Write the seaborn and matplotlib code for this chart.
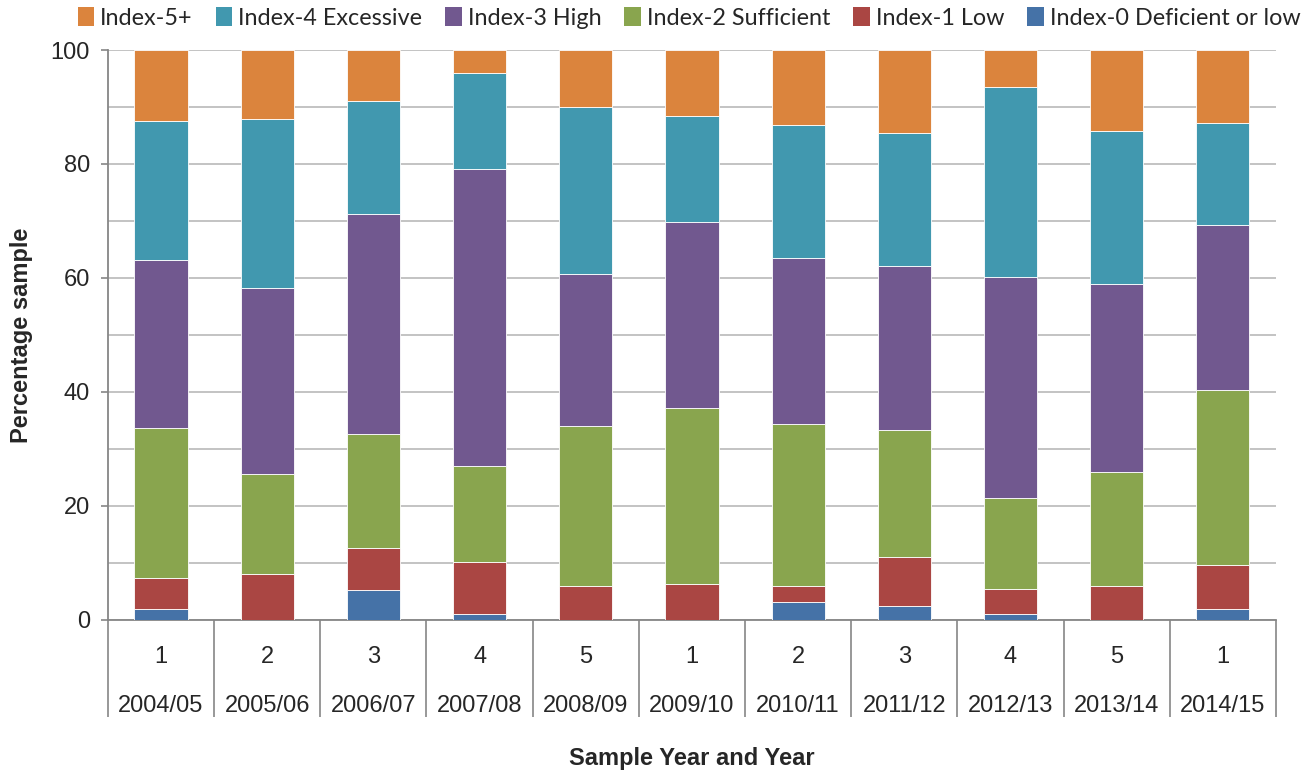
import numpy as np
import pandas as pd
import matplotlib
matplotlib.use("Agg")
import matplotlib.pyplot as plt
import seaborn as sns
from matplotlib.patches import Patch

# ---- data ----
sample_nums = ["1", "2", "3", "4", "5", "1", "2", "3", "4", "5", "1"]
years = ["2004/05", "2005/06", "2006/07", "2007/08", "2008/09", "2009/10",
         "2010/11", "2011/12", "2012/13", "2013/14", "2014/15"]

idx0 = [2.0, 0.0, 5.2, 1.0, 0.0, 0.0, 3.1, 2.4, 1.0, 0.0, 2.0]
idx1 = [5.3, 8.0, 7.4, 9.1, 5.9, 6.3, 2.8, 8.7, 4.5, 5.9, 7.7]
idx2 = [26.4, 17.6, 20.0, 16.9, 28.1, 30.9, 28.5, 22.3, 15.9, 20.0, 30.7]
idx3 = [29.5, 32.7, 38.7, 52.1, 26.7, 32.7, 29.1, 28.7, 38.7, 33.1, 28.9]
idx4 = [24.3, 29.6, 19.8, 16.8, 29.3, 18.6, 23.4, 23.3, 33.4, 26.8, 17.9]
idx5 = [12.5, 12.1, 8.9, 4.1, 10.0, 11.5, 13.1, 14.6, 6.5, 14.2, 12.8]

series_names = ["Index-0 Deficient or low", "Index-1 Low", "Index-2 Sufficient",
                "Index-3 High", "Index-4 Excessive", "Index-5+"]
series_vals = [idx0, idx1, idx2, idx3, idx4, idx5]
colors = ["#4572A7", "#AA4643", "#89A54E", "#71588F", "#4198AF", "#DB843D"]

y_ticks = [0, 20, 40, 60, 80, 100]

# ---- plot ----
sns.set_theme(style="white")
plt.rcParams['font.family'] = ['Liberation Sans', 'DejaVu Sans']

fig = plt.figure(figsize=(13.16, 7.74), dpi=100)
ax = fig.add_axes([0.082, 0.199, 0.8876, 0.7364])

pos = list(range(len(years)))
bottom = np.zeros(len(years))
for name, vals, col in zip(series_names, series_vals, colors):
    df = pd.DataFrame({"pos": pos, "val": vals})
    sns.barplot(data=df, x="pos", y="val", bottom=bottom, color=col,
                width=0.5, edgecolor="white", linewidth=0.6, ax=ax,
                saturation=1, zorder=3)
    bottom = bottom + np.array(vals)

ax.set_xlim(-0.5, len(years) - 0.5)
ax.set_ylim(0, 100)

# grid every 10
ax.set_yticks(y_ticks)
ax.set_yticks(np.arange(0, 101, 10), minor=True)
ax.yaxis.grid(True, which="both", color="#BEBEBE", linewidth=1.3, zorder=0)
ax.set_axisbelow(True)
ax.tick_params(axis="y", which="major", direction="out", length=5, width=1.2,
               color="#868686", labelsize=17, pad=8, left=True)
ax.tick_params(axis="y", which="minor", length=0)
ax.set_yticklabels([str(t) for t in y_ticks])

for s in ["top", "right"]:
    ax.spines[s].set_visible(False)
for s in ["left", "bottom"]:
    ax.spines[s].set_color("#868686")
    ax.spines[s].set_linewidth(1.3)

# x: sample numbers as major tick labels, separators as minor ticks
ax.set_xticks(pos)
ax.set_xticklabels(sample_nums)
ax.set_xticks(np.arange(-0.5, len(years), 1.0), minor=True)
ax.tick_params(axis="x", which="major", length=0, labelsize=17, pad=18.5)
ax.tick_params(axis="x", which="minor", direction="out", length=70,
               width=1.2, color="#868686", bottom=True)

sec = ax.secondary_xaxis("bottom")
sec.set_xticks(pos)
sec.set_xticklabels(years)
sec.tick_params(length=0, labelsize=17, pad=54)
sec.spines["bottom"].set_visible(False)

ax.set_xlabel("Sample Year and Year", fontsize=17, fontweight="bold")
ax.xaxis.set_label_coords(0.5, -0.222)
ax.set_ylabel("Percentage sample", fontsize=17, fontweight="bold")
ax.yaxis.set_label_coords(-0.064, 0.5)

handles = [Patch(facecolor=c, edgecolor="none") for c in colors[::-1]]
fig.legend(handles, series_names[::-1], loc="center", ncol=6,
           bbox_to_anchor=(0.5236, 0.977), frameon=False,
           prop={"family": "Lato", "size": 16.8}, handlelength=0.7,
           handleheight=0.9, handletextpad=0.25, columnspacing=1.0)

fig.savefig("out.png", dpi=100)
